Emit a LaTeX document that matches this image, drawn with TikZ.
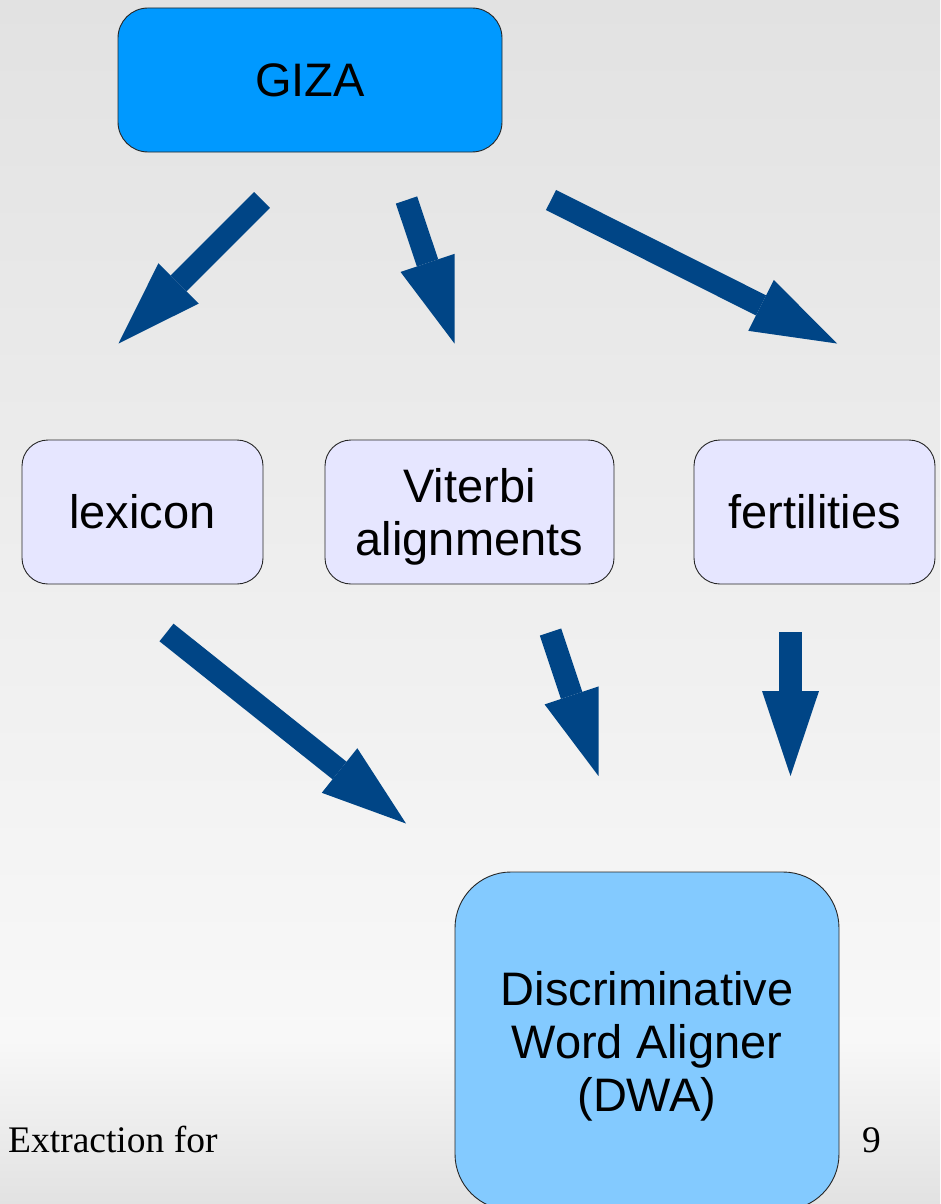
\documentclass[tikz,border=0pt]{standalone}
\usepackage{fontspec}
\setmainfont{Liberation Sans}
\newfontfamily\footserif{Liberation Serif}
\usepackage{xcolor}
\usetikzlibrary{arrows.meta, positioning}

\definecolor{gizablue}{HTML}{0099FF}
\definecolor{dwablue}{HTML}{83CAFF}
\definecolor{lavbox}{HTML}{E6E6FF}
\definecolor{flowblue}{HTML}{004586}
\definecolor{bgtop}{HTML}{E2E2E2}
\definecolor{bgmid}{HTML}{F8F8F8}
\definecolor{bgbot}{HTML}{E2E2E2}

\tikzset{
  box/.style={draw=black!85, line width=0.9pt, rounded corners=26pt, inner sep=0pt,
    align=center, font=\fontsize{47}{53}\selectfont},
  flow/.style={flowblue, line width=22.5pt,
    -{Triangle[width=57pt, length=85pt, line width=0pt]}},
  foot/.style={anchor=base west, inner sep=0pt, font=\footserif\fontsize{37.5}{40}\selectfont}
}

\begin{document}
\begin{tikzpicture}[x=1pt, y=-1pt, on grid]
        \clip (0,0) rectangle (940,1204);
        \useasboundingbox (0,0) rectangle (940,1204);
        % slide background
        \fill[top color=bgtop, bottom color=bgmid] (0,0) rectangle (940,1040);
        \fill[top color=bgmid, bottom color=bgbot] (0,1040) rectangle (940,1204);

        \node[box, fill=gizablue, minimum width=384pt, minimum height=144pt, rounded corners=30pt] (giza) at (310,80) {GIZA};

        \node[box, fill=lavbox, minimum width=241pt, minimum height=144pt] (lex) at (142.5,512) {lexicon};
        \node[box, fill=lavbox, minimum width=289pt, minimum height=144pt, text depth=0pt] (vit) [right=327pt of lex] {Viterbi\\alignments};
        \node[box, fill=lavbox, minimum width=241pt, minimum height=144pt] (fert) [right=345pt of vit] {fertilities};

        \node[box, fill=dwablue, minimum width=384pt, minimum height=338pt, rounded corners=56pt, text depth=0pt] (dwa) at (647,1041) {Discriminative\\Word Aligner\\(DWA)};

        \node[foot] (footer) at (8,1152) {Extraction for};
        \node[foot] (pagenum) at (862,1152) {9};

        % arrow ends
        \coordinate (gl1) at (262,200);
        \coordinate (gl2) at (118.5,343.5);
        \coordinate (gv1) at (406.5,200);
        \coordinate (gv2) at (454.5,343.5);
        \coordinate (gf1) at (551,200);
        \coordinate (gf2) at (837,343.5);
        \coordinate (ld1) at (166.5,632.5);
        \coordinate (ld2) at (406,823.5);
        \coordinate (vd1) at (550.5,632);
        \coordinate (vd2) at (598.5,776);
        \coordinate (fd1) at (790.5,632);
        \coordinate (fd2) at (790.5,776);

        \path[flow]
        (gl1) edge (gl2)
        (gv1) edge (gv2)
        (gf1) edge (gf2)

        (ld1) edge (ld2)
        (vd1) edge (vd2)
        (fd1) edge (fd2);

    \end{tikzpicture}
\end{document}
